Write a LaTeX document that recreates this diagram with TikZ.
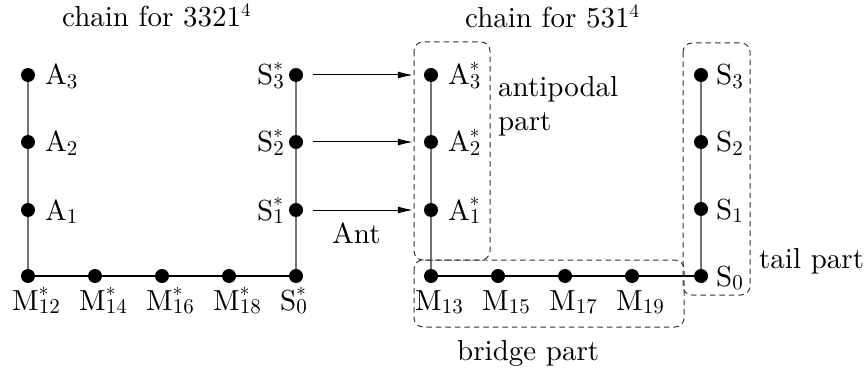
\documentclass[tikz,border=0pt]{standalone}
\usepackage{fontspec}
\usetikzlibrary{arrows.meta}
\newfontfamily\lmten{lmroman10-regular.otf}
\newcommand\nlab[3]{#1\rlap{\raisebox{0.31em}{\fontsize{19}{19}\selectfont #3}}\raisebox{-0.12em}{\fontsize{21}{21}\selectfont #2}}
\newcommand\supfour{\raisebox{0.37em}{\fontsize{19}{19}\selectfont 4}}
\begin{document}
\begin{tikzpicture}[x=1pt,y=-1pt,
  font=\lmten\fontsize{29}{35}\selectfont,
  dot/.style={circle,fill=black,inner sep=0pt,minimum size=14pt},
  vline/.style={draw=black!55,line width=1.2pt},
  hline/.style={draw=black,line width=1.2pt},
  partbox/.style={draw=black!80,dash pattern=on 5.5pt off 4pt,rounded corners=9pt,line width=1pt},
  arr/.style={-{Latex[length=15pt,width=7pt]},line width=1pt},
  lbl/.style={inner sep=0pt},
]
\useasboundingbox (0,0) rectangle (866,374);
% left chain
\node[dot] (a3) at (28,75) {};
\node[dot] (a2) at (28,142) {};
\node[dot] (a1) at (28,210) {};
\node[dot] (m12) at (28,276) {};
\node[dot] (m14) at (95,276) {};
\node[dot] (m16) at (162,276) {};
\node[dot] (m18) at (229,276) {};
\node[dot] (s0s) at (296,276) {};
\node[dot] (s1s) at (296,210) {};
\node[dot] (s2s) at (296,142) {};
\node[dot] (s3s) at (296,75) {};
% right chain
\node[dot] (a3s) at (431,75) {};
\node[dot] (a2s) at (431,142) {};
\node[dot] (a1s) at (431,210) {};
\node[dot] (m13) at (431,276) {};
\node[dot] (m15) at (498,276) {};
\node[dot] (m17) at (565,276) {};
\node[dot] (m19) at (632,276) {};
\node[dot] (s0) at (701,276) {};
\node[dot] (s1) at (701,209) {};
\node[dot] (s2) at (701,142) {};
\node[dot] (s3) at (701,75) {};
% connectors
\draw[vline] (a3) -- (a2);
\draw[vline] (a2) -- (a1);
\draw[vline] (a1) -- (m12);
\draw[hline] (m12) -- (m14);
\draw[hline] (m14) -- (m16);
\draw[hline] (m16) -- (m18);
\draw[hline] (m18) -- (s0s);
\draw[vline] (s0s) -- (s1s);
\draw[vline] (s1s) -- (s2s);
\draw[vline] (s2s) -- (s3s);
\draw[vline] (a3s) -- (a2s);
\draw[vline] (a2s) -- (a1s);
\draw[vline] (a1s) -- (m13);
\draw[hline] (m13) -- (m15);
\draw[hline] (m15) -- (m17);
\draw[hline] (m17) -- (m19);
\draw[hline] (m19) -- (s0);
\draw[vline] (s0) -- (s1);
\draw[vline] (s1) -- (s2);
\draw[vline] (s2) -- (s3);
% arrows
\draw[arr,shorten <=10pt,shorten >=11pt] (s3s) -- (a3s);
\draw[arr,shorten <=10pt,shorten >=11pt] (s2s) -- (a2s);
\draw[arr,shorten <=10pt,shorten >=11pt] (s1s) -- (a1s);
% dashed part boxes
\draw[partbox] (414,42) rectangle (490,260);
\draw[partbox] (414,260) rectangle (684,327);
\draw[partbox] (683,43) rectangle (750,295);
% labels
\node[lbl,anchor=base west] (la3) at (45,85) {\nlab{A}{3}{}};
\node[lbl,anchor=base west] (la2) at (45,152) {\nlab{A}{2}{}};
\node[lbl,anchor=base west] (la1) at (45,220) {\nlab{A}{1}{}};
\node[lbl,anchor=base east] (ls3s) at (284,85) {\nlab{S}{3}{*}};
\node[lbl,anchor=base east] (ls2s) at (284,152) {\nlab{S}{2}{*}};
\node[lbl,anchor=base east] (ls1s) at (284,220) {\nlab{S}{1}{*}};
\node[lbl,anchor=base west] (lm12) at (12,310) {\nlab{M}{12}{*}};
\node[lbl,anchor=base west] (lm14) at (79,310) {\nlab{M}{14}{*}};
\node[lbl,anchor=base west] (lm16) at (146,310) {\nlab{M}{16}{*}};
\node[lbl,anchor=base west] (lm18) at (213,310) {\nlab{M}{18}{*}};
\node[lbl,anchor=base west] (ls0s) at (280,310) {\nlab{S}{0}{*}};
\node[lbl,anchor=base west] (la3s) at (448,85) {\nlab{A}{3}{*}};
\node[lbl,anchor=base west] (la2s) at (448,152) {\nlab{A}{2}{*}};
\node[lbl,anchor=base west] (la1s) at (448,220) {\nlab{A}{1}{*}};
\node[lbl,anchor=base west] (lm13) at (415,310) {\nlab{M}{13}{}};
\node[lbl,anchor=base west] (lm15) at (482,310) {\nlab{M}{15}{}};
\node[lbl,anchor=base west] (lm17) at (549,310) {\nlab{M}{17}{}};
\node[lbl,anchor=base west] (lm19) at (616,310) {\nlab{M}{19}{}};
\node[lbl,anchor=base west] (ls0) at (716,286) {\nlab{S}{0}{}};
\node[lbl,anchor=base west] (ls1) at (716,219) {\nlab{S}{1}{}};
\node[lbl,anchor=base west] (ls2) at (716,152) {\nlab{S}{2}{}};
\node[lbl,anchor=base west] (ls3) at (716,85) {\nlab{S}{3}{}};
\node[lbl,anchor=base west] (t1) at (62,27) {chain for 3321\supfour};
\node[lbl,anchor=base west] (t2) at (465,28) {chain for 531\supfour};
\node[lbl,anchor=base west] (ant) at (332,243) {Ant};
\node[lbl,anchor=base west] (antip) at (498,97) {antipodal};
\node[lbl,anchor=base west] (antip2) at (498,131) {part};
\node[lbl,anchor=base west] (tail) at (759,268) {tail part};
\node[lbl,anchor=base west] (bridge) at (457,360) {bridge part};
\end{tikzpicture}
\end{document}
